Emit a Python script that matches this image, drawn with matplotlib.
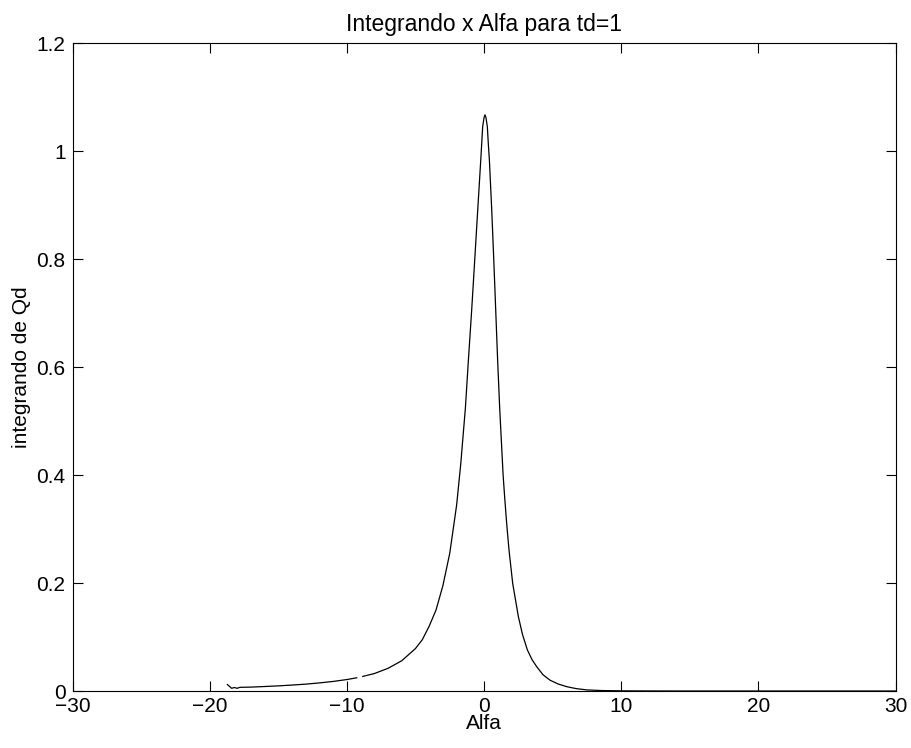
import matplotlib.pyplot as plt
import numpy as np

plt.rcParams['font.family'] = ['Liberation Sans', 'DejaVu Sans']

# curve (alfa, integrand); NaN marks the small gap near -9
alfa = [-18.71, -18.4, -18.2, -18.0, -17.8, -17.0, -16.0, -15.0, -14.0, -13.0,
        -12.0, -11.0, -10.0, -9.28, np.nan, -8.84, -8.0, -7.0, -6.0, -5.0,
        -4.5, -4.0, -3.5, -3.0, -2.5, -2.0, -1.7, -1.36, -1.14, -0.90,
        -0.68, -0.46, -0.24, -0.17, -0.10, 0.00, 0.07, 0.14, 0.24, 0.31,
        0.39, 0.56, 0.71, 0.85, 0.99, 1.14, 1.39, 1.5, 1.65, 1.82,
        2.09, 2.5, 2.8, 3.16, 3.5, 3.84, 4.3, 4.81, 5.4, 6.03,
        6.7, 7.5, 8.5, 10.0, 12.0, 15.0, 20.0, 25.0, 30.0]
integrando = [0.012, 0.005, 0.0065, 0.005, 0.0068, 0.0072, 0.0083, 0.0095, 0.0110, 0.0127,
              0.0150, 0.0177, 0.0212, 0.0245, np.nan, 0.0270, 0.0323, 0.0420, 0.0560, 0.0786,
              0.095, 0.120, 0.150, 0.195, 0.255, 0.344, 0.420, 0.524, 0.613, 0.706,
              0.798, 0.891, 0.983, 1.014, 1.045, 1.062, 1.067, 1.062, 1.045, 1.014,
              0.983, 0.891, 0.798, 0.706, 0.613, 0.524, 0.400, 0.360, 0.310, 0.261,
              0.199, 0.138, 0.105, 0.076, 0.058, 0.045, 0.030, 0.020, 0.013, 0.008,
              0.0045, 0.002, 0.0009, 0.0003, 0.0001, 0.0, 0.0, 0.0, 0.0]

fig = plt.figure(figsize=(9.12, 7.48), dpi=100)
ax = fig.add_axes([0.0795, 0.0762, 0.9025, 0.8663])

ax.plot(alfa, integrando, color='black', linewidth=0.9)

ax.set_xlim(-30, 30)
ax.set_ylim(0, 1.2)
ax.set_xticks([-30, -20, -10, 0, 10, 20, 30])
ax.set_yticks([0, 0.2, 0.4, 0.6, 0.8, 1, 1.2])
ax.set_yticklabels(['0', '0.2', '0.4', '0.6', '0.8', '1', '1.2'])
ax.tick_params(direction='in', top=True, right=True, length=7, width=0.8,
               labelsize=15)
ax.tick_params(axis='x', pad=4)
ax.tick_params(axis='y', pad=5)
for s in ax.spines.values():
    s.set_linewidth(0.8)

ax.set_title('Integrando x Alfa para td=1', fontsize=16.5, pad=9)
ax.set_xlabel('Alfa', fontsize=15, labelpad=-1)
ax.set_ylabel('integrando de Qd', fontsize=15, labelpad=4)

fig.savefig('out.png', dpi=100)
